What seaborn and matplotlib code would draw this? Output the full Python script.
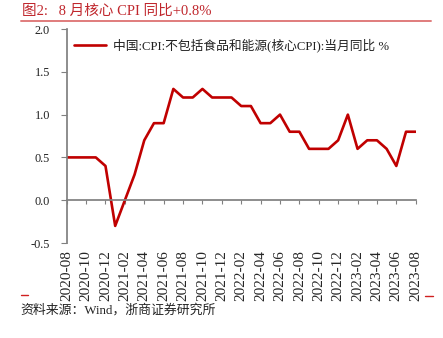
import matplotlib
matplotlib.use("Agg")
import matplotlib.pyplot as plt
import seaborn as sns
import pandas as pd
from matplotlib.lines import Line2D

sns.set_theme(style="white")
plt.rcParams["font.family"] = ["Liberation Serif", "Noto Sans CJK SC"]
plt.rcParams["axes.unicode_minus"] = False

# Monthly core CPI (ex food & energy), YoY %, 2020-08 .. 2023-08
months = pd.period_range("2020-08", "2023-08", freq="M").strftime("%Y-%m").tolist()
core_cpi = [0.5, 0.5, 0.5, 0.5, 0.4,
            -0.3, 0.0, 0.3, 0.7, 0.9, 0.9, 1.3, 1.2, 1.2, 1.3, 1.2, 1.2,
            1.2, 1.1, 1.1, 0.9, 0.9, 1.0, 0.8, 0.8, 0.6, 0.6, 0.6, 0.7,
            1.0, 0.6, 0.7, 0.7, 0.6, 0.4, 0.8, 0.8]
series_name = "中国:CPI:不包括食品和能源(核心CPI):当月同比 %"
title_text = "图2:   8 月核心 CPI 同比+0.8%"
source_text = "资料来源：Wind，浙商证券研究所"
y_ticks = [-0.5, 0.0, 0.5, 1.0, 1.5, 2.0]

df = pd.DataFrame({"idx": range(len(months)), "month": months, "value": core_cpi})

fig = plt.figure(figsize=(4.43, 3.38), dpi=100)
ax = fig.add_axes([0.1506, 0.281, 0.7878, 0.6332])

sns.lineplot(data=df, x="idx", y="value", ax=ax, color="#C00000",
             linewidth=1.9, label=series_name)

ax.set_xlim(0, len(months) - 1)
ax.set_ylim(-0.5, 2.0)
ax.set_yticks(y_ticks)
ax.set_yticklabels([f"{v:.1f}" for v in y_ticks], fontsize=8.8, color="#222222")
tick_idx = df["idx"].tolist()[::2]
ax.set_xticks(tick_idx)
ax.set_xticklabels(df["month"].tolist()[::2], fontsize=8.2, color="#222222")
ax.set_xlabel("")
ax.set_ylabel("")

spine_color = "#808080"
for s in ["top", "right"]:
    ax.spines[s].set_visible(False)
ax.spines["left"].set_color(spine_color)
ax.spines["bottom"].set_color(spine_color)
ax.spines["bottom"].set_position(("data", 0))
ax.tick_params(axis="y", direction="out", length=4, width=0.8, color=spine_color,
               left=True, pad=8)
ax.tick_params(axis="x", direction="out", length=3, width=0.8, color=spine_color,
               bottom=True, pad=33, labelrotation=90)

leg = ax.legend(loc="upper left", bbox_to_anchor=(0.0, 0.99), frameon=False,
                fontsize=9.2, handlelength=2.5, handletextpad=0.5,
                borderaxespad=0.2)
for t in leg.get_texts():
    t.set_color("#222222")

# Header and footer
fig.text(0.049, 0.966, title_text, fontsize=10.5, color="#C0272D", va="center")
fig.add_artist(Line2D([0.047, 0.973], [0.939, 0.939], color="#E07C7C", lw=1.4,
                      transform=fig.transFigure))
fig.add_artist(Line2D([0.047, 0.064], [0.127, 0.127], color="#D02020", lw=1.0,
                      transform=fig.transFigure))
fig.add_artist(Line2D([0.960, 0.977], [0.124, 0.124], color="#D02020", lw=1.0,
                      transform=fig.transFigure))
fig.text(0.047, 0.083, source_text, fontsize=9.3, color="#222222", va="center")

fig.savefig("out.png", dpi=100)
